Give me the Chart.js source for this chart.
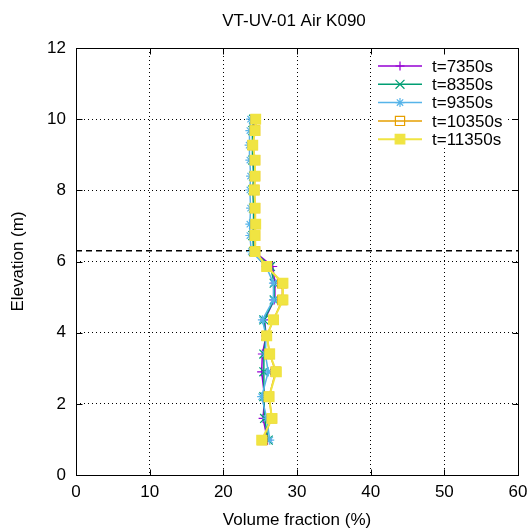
<!DOCTYPE html>
<html><head><meta charset="utf-8">
<script src="https://cdn.jsdelivr.net/npm/chart.js@4/dist/chart.umd.min.js"></script>
<style>html,body{margin:0;padding:0;background:#fff;}</style>
</head><body>
<canvas id="c" width="529" height="531"></canvas>
<script>
// ---- data ----
const chartTitle = 'VT-UV-01 Air K090';
const xTitle = 'Volume fraction (%)';
const yTitle = 'Elevation (m)';
const seriesNames = ['t=7350s', 't=8350s', 't=9350s', 't=10350s', 't=11350s'];
const elevation = [0.98, 1.59, 2.20, 2.90, 3.40, 3.91, 4.36, 4.92, 5.39, 5.86, 6.28, 6.73, 7.05, 7.50, 8.01, 8.40, 8.85, 9.27, 9.68, 10.0];
const t7350  = [26.0, 25.4, 25.6, 25.2, 25.3, 25.8, 25.6, 26.9, 27.0, 26.7, 24.2, 24.1, 24.2, 24.2, 24.1, 24.2, 24.1, 24.0, 24.1, 24.2];
const t8350  = [26.1, 25.6, 25.5, 25.5, 25.5, 25.8, 25.5, 26.9, 26.9, 26.4, 24.1, 24.0, 24.1, 24.1, 24.0, 24.1, 24.0, 23.9, 24.0, 24.1];
const t9350  = [26.3, 25.9, 25.2, 26.1, 25.7, 25.8, 25.3, 26.8, 26.8, 25.8, 23.8, 23.6, 23.6, 23.7, 23.6, 23.7, 23.6, 23.5, 23.6, 23.7];
const t10350 = [25.3, 26.6, 26.2, 27.1, 26.3, 25.9, 26.8, 28.0, 28.0, 25.9, 24.3, 24.3, 24.4, 24.3, 24.2, 24.3, 24.3, 24.0, 24.3, 24.4];
const t11350 = [25.2, 26.6, 26.2, 27.2, 26.3, 25.9, 26.8, 28.1, 28.1, 25.9, 24.3, 24.3, 24.4, 24.3, 24.2, 24.3, 24.3, 24.0, 24.3, 24.4];
const refLineElevation = 6.3;
const xTickValues = [0, 10, 20, 30, 40, 50, 60];
const yTickValues = [0, 2, 4, 6, 8, 10, 12];

// ---- styles ----
const FONT = "'Liberation Sans', Arial, sans-serif";
const FS = 17;
const colors = ['#9400d3', '#009e73', '#56b4e9', '#e69f00', '#f0e442'];
const lineWidths = [1.5, 1.5, 1.5, 1.5, 2];
const markers = [
  {pointStyle: 'cross', radius: 4.5, fill: false},
  {pointStyle: 'crossRot', radius: 6.3, fill: false},
  {pointStyle: 'star', radius: 4.5, fill: false},
  {pointStyle: 'rect', radius: 6.5, fill: false},
  {pointStyle: 'rect', radius: 6.8, fill: true}
];
const seriesValues = [t7350, t8350, t9350, t10350, t11350];

Chart.defaults.font.family = FONT;
Chart.defaults.font.size = FS;
Chart.defaults.color = '#000';

const toPts = (xs) => xs.map((v, i) => ({x: v, y: elevation[i]}));

const datasets = seriesValues.map((vals, i) => ({
  label: seriesNames[i],
  data: toPts(vals),
  showLine: true,
  borderColor: colors[i],
  backgroundColor: markers[i].fill ? colors[i] : 'rgba(0,0,0,0)',
  pointBorderColor: colors[i],
  pointBackgroundColor: markers[i].fill ? colors[i] : 'rgba(0,0,0,0)',
  borderWidth: lineWidths[i],
  pointBorderWidth: 1.2,
  pointStyle: markers[i].pointStyle,
  pointRadius: markers[i].radius,
  tension: 0,
  order: 5 - i
}));
datasets.push({
  label: '_ref',
  data: [{x: xTickValues[0], y: refLineElevation}, {x: xTickValues[xTickValues.length - 1], y: refLineElevation}],
  showLine: true,
  borderColor: '#000',
  borderWidth: 1.5,
  borderDash: [6, 4],
  pointRadius: 0,
  order: 10
});

const gnuplotFrame = {
  id: 'gnuplotFrame',
  afterDraw(chart) {
    const ctx = chart.ctx;
    const a = chart.chartArea;
    const xs = chart.scales.x, ys = chart.scales.y;
    ctx.save();

    // legend (opaque box inside plot, top right)
    ctx.fillStyle = '#fff';
    ctx.fillRect(374, 56, 132, 92);
    const x1 = 378, x2 = 422, xm = 400, xt = 432, y0 = 66, dy = 18.3;
    ctx.font = FS + 'px ' + FONT;
    seriesNames.forEach((name, i) => {
      const y = y0 + i * dy;
      ctx.setLineDash([]);
      ctx.strokeStyle = colors[i];
      ctx.lineWidth = lineWidths[i];
      ctx.beginPath(); ctx.moveTo(x1, y); ctx.lineTo(x2, y); ctx.stroke();
      ctx.fillStyle = markers[i].fill ? colors[i] : 'rgba(0,0,0,0)';
      ctx.lineWidth = 1.2;
      Chart.helpers.drawPoint(ctx, {
        pointStyle: markers[i].pointStyle,
        radius: markers[i].radius,
        rotation: 0,
        borderWidth: 1.2
      }, xm, y);
      ctx.fillStyle = '#000';
      ctx.textAlign = 'left';
      ctx.textBaseline = 'middle';
      ctx.fillText(name, xt, y + 1);
    });

    // frame + inward ticks
    ctx.strokeStyle = '#000';
    ctx.lineWidth = 1;
    ctx.setLineDash([]);
    const L = Math.round(a.left) + 0.5, R = Math.round(a.right) + 0.5;
    const T = Math.round(a.top) + 0.5, B = Math.round(a.bottom) + 0.5;
    ctx.strokeRect(L, T, R - L, B - T);
    const tl = 6;
    ctx.beginPath();
    xTickValues.forEach(v => {
      const px = Math.round(xs.getPixelForValue(v)) + 0.5;
      ctx.moveTo(px, B); ctx.lineTo(px, B - tl);
      ctx.moveTo(px, T); ctx.lineTo(px, T + tl);
    });
    yTickValues.forEach(v => {
      const py = Math.round(ys.getPixelForValue(v)) + 0.5;
      ctx.moveTo(L, py); ctx.lineTo(L + tl, py);
      ctx.moveTo(R, py); ctx.lineTo(R - tl, py);
    });
    ctx.stroke();

    // title
    ctx.fillStyle = '#000';
    ctx.font = FS + 'px ' + FONT;
    ctx.textAlign = 'center';
    ctx.textBaseline = 'middle';
    ctx.fillText(chartTitle, (a.left + a.right) / 2 - 3, 21);
    ctx.restore();
  }
};

new Chart(document.getElementById('c'), {
  type: 'scatter',
  data: {datasets},
  plugins: [gnuplotFrame],
  options: {
    responsive: false,
    animation: false,
    layout: {padding: {top: 48, right: 11, bottom: 0, left: 0}},
    plugins: {legend: {display: false}, tooltip: {enabled: false}, title: {display: false}},
    scales: {
      x: {
        type: 'linear', min: 0, max: 60,
        afterFit: s => { s.height = 56; s.paddingLeft = 0; s.paddingRight = 0; },
        afterBuildTicks: s => { s.ticks = xTickValues.map(v => ({value: v})); },
        ticks: {padding: 7, color: '#000', font: {size: FS}},
        grid: {color: '#000', lineWidth: 1, drawTicks: false},
        border: {display: false, dash: [1, 3]},
        title: {display: true, text: xTitle, color: '#000', font: {size: FS}, padding: {top: 0, bottom: 0}}
      },
      y: {
        type: 'linear', min: 0, max: 12,
        afterFit: s => { s.width = 76; s.paddingTop = 0; s.paddingBottom = 0; },
        afterBuildTicks: s => { s.ticks = yTickValues.map(v => ({value: v})); },
        ticks: {padding: 10, color: '#000', font: {size: FS}},
        grid: {color: '#000', lineWidth: 1, drawTicks: false},
        border: {display: false, dash: [1, 3]},
        title: {display: true, text: yTitle, color: '#000', font: {size: FS}, padding: {top: 8, bottom: 0}}
      }
    }
  }
});
</script>
</body></html>
